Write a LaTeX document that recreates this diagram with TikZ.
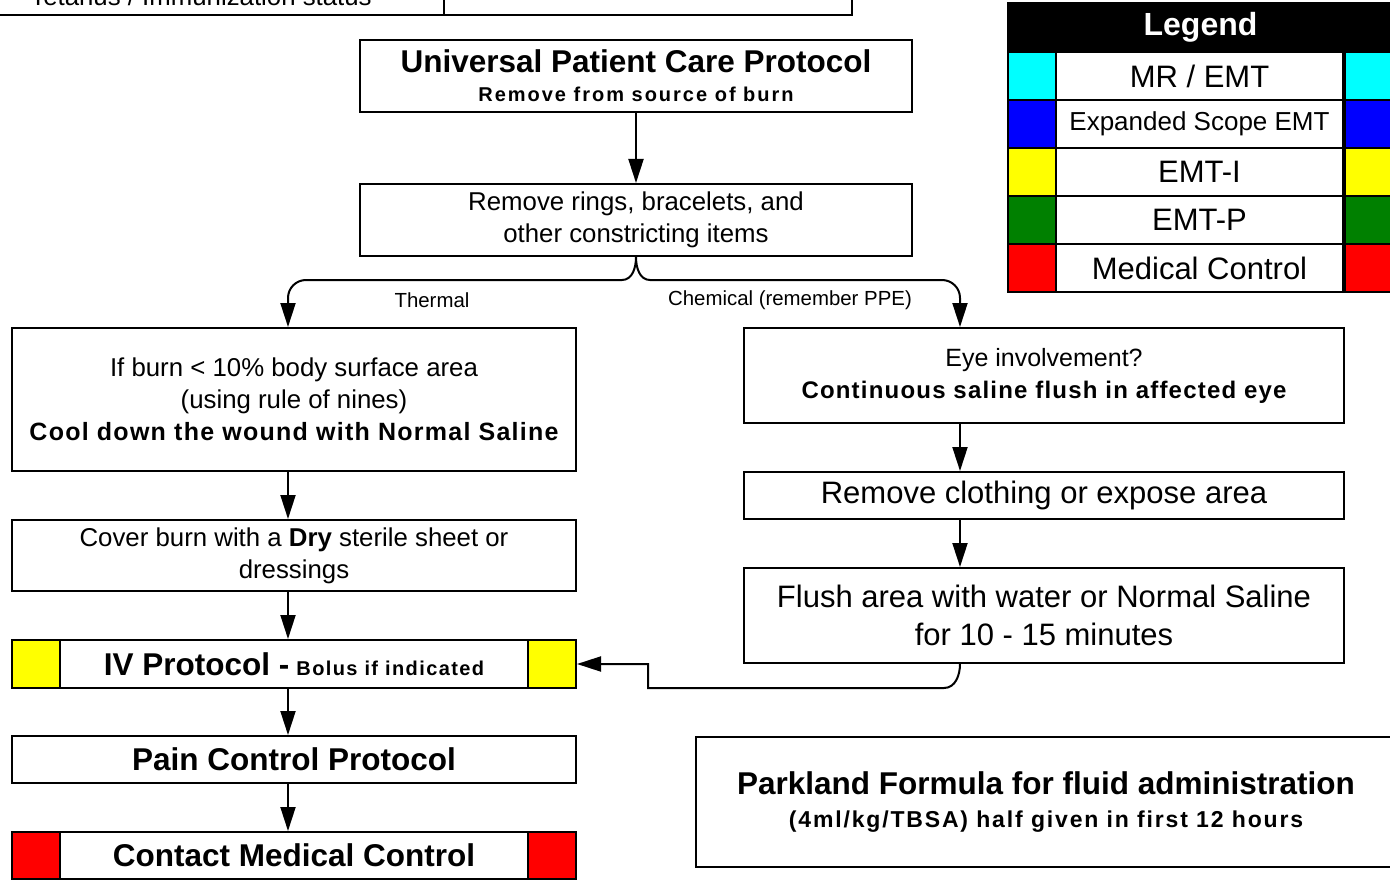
\documentclass[tikz,border=0pt]{standalone}
\usepackage{fontspec}
\setmainfont{Liberation Sans}
\newfontfamily\spaced[LetterSpace=5]{Liberation Sans}
\usetikzlibrary{arrows.meta,calc}

\definecolor{emtcyan}{RGB}{0,255,255}
\definecolor{emtblue}{RGB}{0,0,255}
\definecolor{emtyellow}{RGB}{255,255,0}
\definecolor{emtgreen}{RGB}{0,128,0}
\definecolor{emtred}{RGB}{255,0,0}

\tikzset{
  box/.style={draw, line width=2pt, fill=white, inner sep=0pt, align=center},
  cell/.style={draw, line width=2pt, inner sep=0pt, minimum width=48, minimum height=48},
  link/.style={line width=2pt, -{Triangle[length=24pt,width=15pt]}},
  reg/.style={font=\fontsize{25.8}{32}\selectfont},
  big/.style={font=\fontsize{31.5}{38}\selectfont\bfseries},
}

\begin{document}
\begin{tikzpicture}[x=1pt, y=-1pt]

\useasboundingbox (0,0) rectangle (1390,880);

% Cut-off table at the top
\draw[line width=2pt] (-5,-60) rectangle (852,15);
\draw[line width=2pt] (444,-60) -- (444,15);
\node[anchor=base, reg] (tetanus) at (201,6) {Tetanus / Immunization status};

% Legend
\node[box, fill=black, text=white, minimum width=392, minimum height=49, anchor=west,
      font=\fontsize{32}{36}\selectfont\bfseries] (leg0) at (1007,27.5) {\hspace*{-7pt}\raisebox{-3pt}{Legend}};
\foreach \col/\txt/\fsz [count=\i] in {emtcyan/{MR / EMT}/31, emtblue/{Expanded Scope EMT}/26,
    emtyellow/{EMT-I}/31, emtgreen/{EMT-P}/31, emtred/{Medical Control}/31} {
  \node[box, minimum width=287, minimum height=48, font=\fontsize{\fsz}{36}\selectfont] (leg\i) at (1199.5,28+48*\i) {\txt};
  \node[cell, fill=\col] (legl\i) at (1031.5,28+48*\i) {};
  \node[cell, fill=\col, minimum width=56, anchor=west] (legr\i) at (leg\i.east) {};
}

% Column lines
\coordinate (lcol) at (288,0);
\coordinate (rcol) at (960,0);

% Top of the flow
\node[box, minimum width=552, minimum height=72, font=\fontsize{20}{29}\selectfont] (upc) at (636,76)
  {{\fontsize{31.5}{36}\selectfont\bfseries Universal Patient Care Protocol}\\
   {\spaced\addfontfeature{LetterSpace=10}\bfseries Remove from source of burn}};

\node[box, reg, minimum width=552, minimum height=72] (rings) at (636,220)
  {Remove rings, bracelets, and\\other constricting items};

\draw[link] (upc) -- (rings);

% Thermal side
\node[box, reg, minimum width=564, minimum height=143] (cool) at (294,399.5)
  {If burn < 10\% body surface area\\(using rule of nines)\\
   {\spaced\bfseries\fontsize{25}{32}\selectfont Cool down the wound with Normal Saline}};

\node[box, reg, minimum width=564, minimum height=71] (cover) at (294,555.5)
  {Cover burn with a \textbf{Dry} sterile sheet or\\dressings};

\node[box, minimum width=564, minimum height=48] (iv) at (294,664)
  {{\fontsize{31.5}{36}\selectfont\bfseries IV Protocol -}\hspace{7pt}%
   {\spaced\addfontfeature{LetterSpace=7}\fontsize{20}{24}\selectfont\bfseries Bolus if indicated}};
\node[cell, fill=emtyellow, anchor=west] (ivl) at (iv.west) {};
\node[cell, fill=emtyellow, anchor=east] (ivr) at (iv.east) {};

\node[box, big, minimum width=564, minimum height=47] (pain) at (294,759.5) {Pain Control Protocol};

\node[box, big, minimum width=564, minimum height=47] (contact) at (294,855.5) {Contact Medical Control};
\node[cell, fill=emtred, minimum height=47, anchor=west] (contactl) at (contact.west) {};
\node[cell, fill=emtred, minimum height=47, anchor=east] (contactr) at (contact.east) {};

\draw[link] (cool.south -| lcol) -- (cover.north -| lcol);
\draw[link] (cover.south -| lcol) -- (iv.north -| lcol);
\draw[link] (iv.south -| lcol) -- (pain.north -| lcol);
\draw[link] (pain.south -| lcol) -- (contact.north -| lcol);

% Chemical side
\node[box, font=\fontsize{25}{32}\selectfont, minimum width=600, minimum height=95] (eye) at (1044,375.5)
  {Eye involvement?\\{\spaced\bfseries\fontsize{24}{32}\selectfont Continuous saline flush in affected eye}};

\node[box, font=\fontsize{31}{38}\selectfont, minimum width=600, minimum height=47] (cloth) at (1044,495.5)
  {Remove clothing or expose area};

\node[box, font=\fontsize{31}{38}\selectfont, minimum width=600, minimum height=95] (flush) at (1044,615.5)
  {Flush area with water or Normal Saline\\for 10 - 15 minutes};

\draw[link] (eye.south -| rcol) -- (cloth.north -| rcol);
\draw[link] (cloth.south -| rcol) -- (flush.north -| rcol);

% Branches
\draw[link] (rings.south) to[out=-90, in=0] (622,280) -- (306,280)
  to[out=180, in=90] (288,298) -- (cool.north -| lcol);
\draw[link] (rings.south) to[out=-90, in=180] (650,280) -- (942,280)
  to[out=0, in=90] (960,298) -- (eye.north -| rcol);

\node[font=\fontsize{20.4}{24}\selectfont] (thermal) at (432,300) {Thermal};
\node[font=\fontsize{20.4}{24}\selectfont] (chemical) at (790,300) {Chemical (remember PPE)};

% Back to IV
\draw[link] (flush.south -| rcol) to[out=-90, in=0] (944,688) -- (648,688) |- (ivr.east);

% Parkland
\node[box, minimum width=706, minimum height=130, font=\fontsize{23}{37}\selectfont] (parkland) at (1049,802)
  {{\fontsize{31.5}{38}\selectfont\bfseries \hspace*{-6pt}Parkland Formula for fluid administration}\\[-4pt]
   {\spaced\addfontfeature{LetterSpace=8}\bfseries \hspace*{-6pt}(4ml/kg/TBSA) half given in first 12 hours}};

\end{tikzpicture}
\end{document}
